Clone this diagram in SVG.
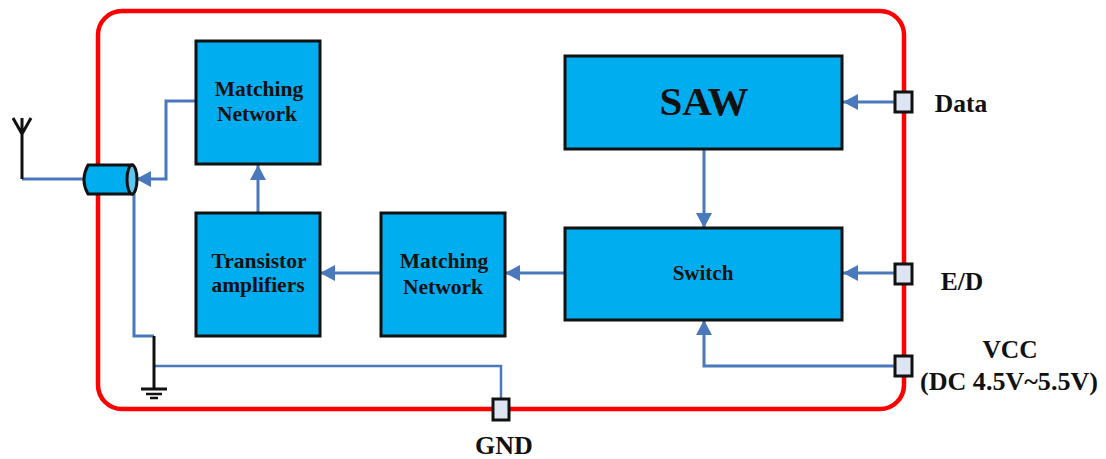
<svg xmlns="http://www.w3.org/2000/svg" width="1106" height="459" viewBox="0 0 1106 459">
<style>
.box{fill:#00aeef;stroke:#111;stroke-width:3}
.pin{fill:#dde4f2;stroke:#111;stroke-width:3}
.w{fill:none;stroke:#4a78bd;stroke-width:3}
.k{fill:none;stroke:#111;stroke-width:3}
text{font-family:"Liberation Serif",serif;font-weight:bold;fill:#111;text-anchor:middle}
.t{font-size:21.500px}
.l{font-size:26px}
</style>
<defs><marker id="a" markerUnits="userSpaceOnUse" markerWidth="16" markerHeight="18" refX="15" refY="9" orient="auto"><path d="M0,1L15,9L0,17z" fill="#4a78bd"/></marker></defs>
<rect id="frame" x="98" y="11" width="806" height="398" rx="24" fill="none" stroke="#f00" stroke-width="4.500"/>
<g id="connectors">
<path class="w" d="M22,179H84"/>
<path class="w" d="M196,101H166V179H136" marker-end="url(#a)"/>
<path class="w" d="M134,194V336H154"/>
<path class="w" d="M154,366H501V399" style="stroke-width:2.500"/>
<path class="w" d="M258,213V165" marker-end="url(#a)"/>
<path class="w" d="M381,273H320" marker-end="url(#a)"/>
<path class="w" d="M565,273H505" marker-end="url(#a)"/>
<path class="w" d="M704,149V228" marker-end="url(#a)"/>
<path class="w" d="M896,102H843" marker-end="url(#a)"/>
<path class="w" d="M896,273H843" marker-end="url(#a)"/>
<path class="w" d="M896,366H704V320" marker-end="url(#a)"/>
</g>
<g id="antenna"><path class="k" d="M22,179V134M13,118L22,134L31,118M22,134V118"/></g>
<g id="coax">
<path d="M88,165H132V194H88Q80,180 88,165z" fill="#00aeef" stroke="#111" stroke-width="3"/>
<ellipse cx="132" cy="179.500" rx="5" ry="14.500" fill="#5fc4ee" stroke="#111" stroke-width="3"/>
</g>
<g id="ground"><path class="k" d="M154,336V388M141,389H167"/><path class="k" d="M146,394H162M150,398H158" style="stroke-width:2.500"/></g>
<g id="matching-top"><rect class="box" x="196" y="41" width="124" height="123"/><text class="t" x="259" y="96">Matching</text><text class="t" x="257" y="121">Network</text></g>
<g id="transistor"><rect class="box" x="196" y="213" width="124" height="123"/><text class="t" x="259" y="268">Transistor</text><text class="t" x="258" y="292">amplifiers</text></g>
<g id="matching-bottom"><rect class="box" x="381" y="213" width="124" height="123"/><text class="t" x="444" y="268">Matching</text><text class="t" x="443" y="294">Network</text></g>
<g id="saw"><rect class="box" x="565" y="56" width="277" height="93"/><text x="704" y="115" font-size="41">SAW</text></g>
<g id="switch"><rect class="box" x="565" y="228" width="277" height="92"/><text x="703" y="280" font-size="21">Switch</text></g>
<g id="pin-data"><rect class="pin" x="895" y="92" width="17" height="20"/><text x="961" y="112" font-size="25.500">Data</text></g>
<g id="pin-ed"><rect class="pin" x="895" y="264" width="17" height="20"/><text x="962" y="290" font-size="25.500">E/D</text></g>
<g id="pin-vcc"><rect class="pin" x="895" y="356" width="17" height="20"/><text x="1010" y="358" font-size="25.500">VCC</text><text class="l" x="1009" y="390" textLength="178" lengthAdjust="spacingAndGlyphs">(DC 4.5V~5.5V)</text></g>
<g id="pin-gnd"><rect class="pin" x="493" y="399" width="16" height="21"/><text class="l" x="504" y="454">GND</text></g>
</svg>
